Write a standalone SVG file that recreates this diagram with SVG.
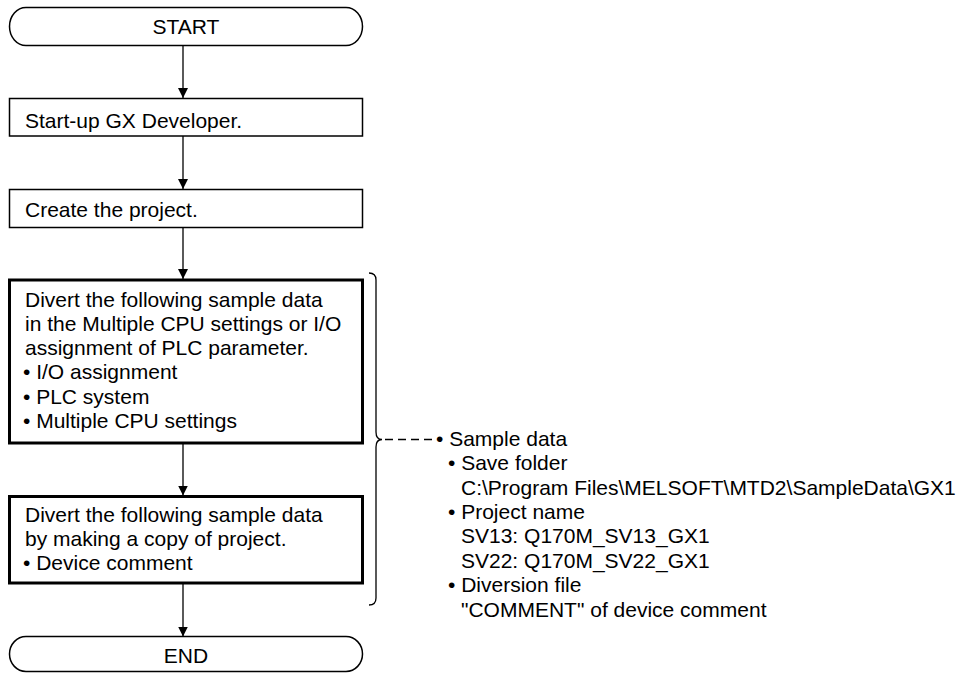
<svg xmlns="http://www.w3.org/2000/svg" width="976" height="673" viewBox="0 0 976 673">
<defs>
<marker id="arr" viewBox="0 0 10 10" refX="10" refY="5" markerWidth="10" markerHeight="10" markerUnits="userSpaceOnUse" orient="auto">
<path d="M0,0 L10,5 L0,10 Z" fill="#000"/>
</marker>
</defs>
<style>
text{font-family:"Liberation Sans",Arial,sans-serif;font-size:21px;fill:#000}
.thin{fill:#fff;stroke:#000;stroke-width:1.5}
.thick{fill:#fff;stroke:#000;stroke-width:3}
.c{text-anchor:middle}
.conn{stroke:#000;stroke-width:1.3;fill:none}
</style>
<rect width="976" height="673" fill="#fff"/>
<g id="connectors">
<line class="conn" x1="183" y1="45.5" x2="183" y2="98" marker-end="url(#arr)"/>
<line class="conn" x1="183" y1="136" x2="183" y2="189" marker-end="url(#arr)"/>
<line class="conn" x1="183" y1="227.5" x2="183" y2="279" marker-end="url(#arr)"/>
<line class="conn" x1="183" y1="443" x2="183" y2="495.5" marker-end="url(#arr)"/>
<line class="conn" x1="183" y1="583" x2="183" y2="636.5" marker-end="url(#arr)"/>
<path class="conn" d="M369,273 Q376,273 376,280 V432 Q376,439.5 382,439.5 Q376,439.5 376,447 V598 Q376,605 369,605"/>
<line class="conn" x1="385" y1="439.5" x2="435" y2="439.5" stroke-dasharray="8,5"/>
</g>
<g id="start">
<path class="thin" d="M26,7.5 H346 A16.5,19 0 0 1 346,45.5 H26 A16.5,19 0 0 1 26,7.5 Z"/>
<text class="c" x="186" y="34">START</text>
</g>
<g id="step1">
<rect class="thin" x="9.5" y="98.5" width="353" height="37.5"/>
<text x="25" y="128">Start-up GX Developer.</text>
</g>
<g id="step2">
<rect class="thin" x="9.5" y="189.5" width="353" height="38"/>
<text x="25" y="217">Create the project.</text>
</g>
<g id="step3">
<rect class="thick" x="9.5" y="280" width="353" height="163"/>
<text x="25" y="306.5">Divert the following sample data</text>
<text x="25" y="330.8">in the Multiple CPU settings or I/O</text>
<text x="25" y="355.1">assignment of PLC parameter.</text>
<text x="23" y="379.4">• I/O assignment</text>
<text x="23" y="403.7">• PLC system</text>
<text x="23" y="428">• Multiple CPU settings</text>
</g>
<g id="step4">
<rect class="thick" x="9.5" y="496.5" width="353" height="86.5"/>
<text x="25" y="521.5">Divert the following sample data</text>
<text x="25" y="545.8">by making a copy of project.</text>
<text x="23" y="570">• Device comment</text>
</g>
<g id="end">
<path class="thin" d="M26,636.5 H346 A16.5,17.5 0 0 1 346,671.5 H26 A16.5,17.5 0 0 1 26,636.5 Z"/>
<text class="c" x="186" y="663">END</text>
</g>
<g id="note">
<text x="436" y="445.5">• Sample data</text>
<text x="448" y="470">• Save folder</text>
<text x="461" y="494.5">C:\Program Files\MELSOFT\MTD2\SampleData\GX1</text>
<text x="448" y="518.5">• Project name</text>
<text x="461" y="543">SV13: Q170M_SV13_GX1</text>
<text x="461" y="567.5">SV22: Q170M_SV22_GX1</text>
<text x="448" y="592">• Diversion file</text>
<text x="461" y="616.5">"COMMENT" of device comment</text>
</g>
</svg>
